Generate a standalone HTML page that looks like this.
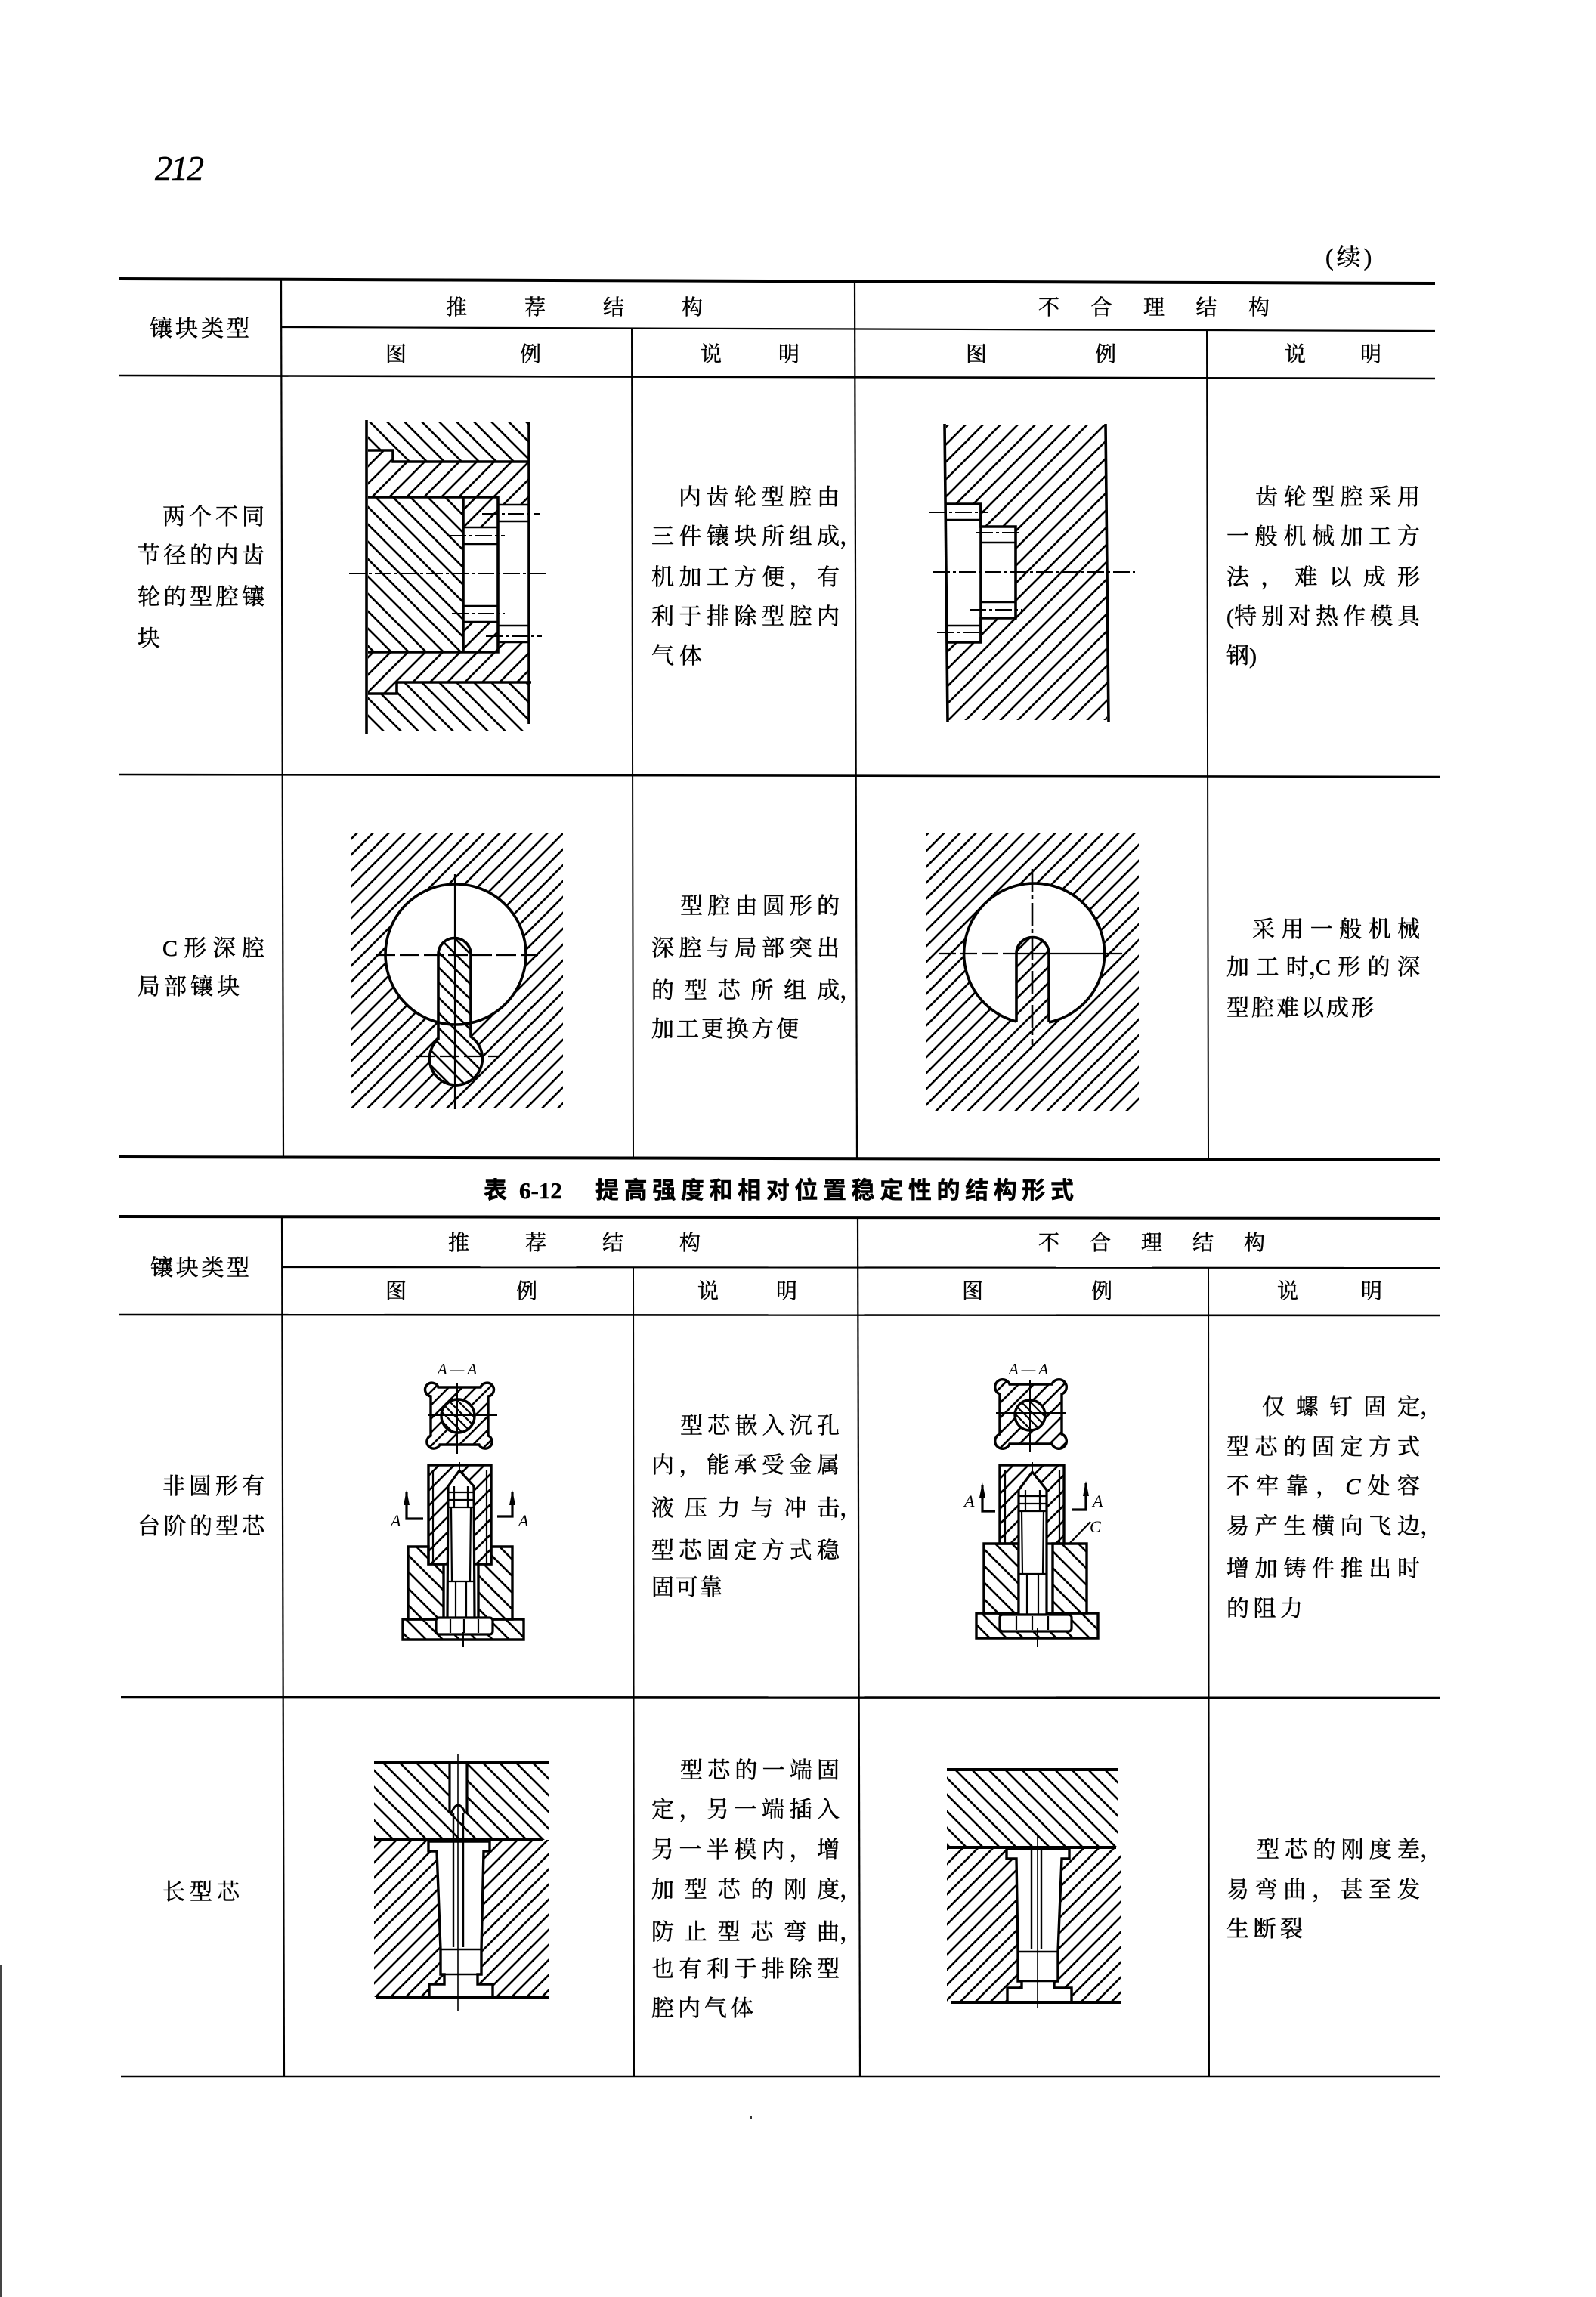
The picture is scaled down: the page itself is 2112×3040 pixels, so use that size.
<!DOCTYPE html>
<html><head><meta charset="utf-8">
<style>
body{margin:0;width:2112px;height:3040px;position:relative;overflow:hidden;background:#fff}
.t{position:absolute;font-family:"Liberation Serif","Noto Serif CJK SC",serif;font-size:30px;line-height:30px;white-space:nowrap;color:#000;-webkit-text-stroke:0.5px #000}
.h{font-size:28px}
.j{display:flex;justify-content:space-between}
.j i{font-style:normal;position:relative;display:block}
.j s{position:absolute;left:100%;top:0;text-decoration:none}
em{font-style:italic}
svg{position:absolute;left:0;top:0}
</style></head><body>
<svg width="2112" height="3040" viewBox="0 0 2112 3040">
<defs>
<pattern id="F23" width="23" height="23" patternUnits="userSpaceOnUse"><path d="M-4,27L27,-4M-4,4L4,-4M19,27L27,19" stroke="#000" stroke-width="2.6"/></pattern>
<pattern id="B23" width="23" height="23" patternUnits="userSpaceOnUse"><path d="M-4,-4L27,27M19,-4L27,4M-4,19L4,27" stroke="#000" stroke-width="2.6"/></pattern>
<pattern id="F22" width="22" height="22" patternUnits="userSpaceOnUse"><path d="M-4,26L26,-4M-4,4L4,-4M18,26L26,18" stroke="#000" stroke-width="2.6"/></pattern>
<pattern id="B22" width="22" height="22" patternUnits="userSpaceOnUse"><path d="M-4,-4L26,26M18,-4L26,4M-4,18L4,26" stroke="#000" stroke-width="2.6"/></pattern>
<pattern id="F21" width="21" height="21" patternUnits="userSpaceOnUse"><path d="M-4,25L25,-4M-4,4L4,-4M17,25L25,17" stroke="#000" stroke-width="2.6"/></pattern>
<pattern id="B21" width="21" height="21" patternUnits="userSpaceOnUse"><path d="M-4,-4L25,25M17,-4L25,4M-4,17L4,25" stroke="#000" stroke-width="2.6"/></pattern>
<pattern id="F20" width="20" height="20" patternUnits="userSpaceOnUse"><path d="M-4,24L24,-4M-4,4L4,-4M16,24L24,16" stroke="#000" stroke-width="2.6"/></pattern>
<pattern id="B20" width="20" height="20" patternUnits="userSpaceOnUse"><path d="M-4,-4L24,24M16,-4L24,4M-4,16L4,24" stroke="#000" stroke-width="2.6"/></pattern>
<pattern id="F18" width="18" height="18" patternUnits="userSpaceOnUse"><path d="M-4,22L22,-4M-4,4L4,-4M14,22L22,14" stroke="#000" stroke-width="2.5"/></pattern>
<pattern id="B18" width="18" height="18" patternUnits="userSpaceOnUse"><path d="M-4,-4L22,22M14,-4L22,4M-4,14L4,22" stroke="#000" stroke-width="2.5"/></pattern>
<pattern id="B12" width="12" height="12" patternUnits="userSpaceOnUse"><path d="M-4,-4L16,16M8,-4L16,4M-4,8L4,16" stroke="#000" stroke-width="2.2"/></pattern>
</defs>

<!-- TABLE 1 LINES -->
<g stroke="#000" fill="none">
<line x1="158" y1="369" x2="1899" y2="375" stroke-width="4"/>
<line x1="373" y1="433" x2="1899" y2="438" stroke-width="2.2"/>
<line x1="158" y1="497" x2="1899" y2="501" stroke-width="2.6"/>
<line x1="158" y1="1025" x2="1906" y2="1028" stroke-width="2.6"/>
<line x1="158" y1="1531" x2="1906" y2="1535" stroke-width="4"/>
<line x1="372" y1="369" x2="375" y2="1532" stroke-width="2.2"/>
<line x1="836" y1="434" x2="838" y2="1532" stroke-width="2"/>
<line x1="1131" y1="372" x2="1134" y2="1533" stroke-width="2.2"/>
<line x1="1597" y1="437" x2="1599" y2="1533" stroke-width="2"/>
<!-- TABLE 2 LINES -->
<line x1="158" y1="1610" x2="1906" y2="1612" stroke-width="4"/>
<line x1="373" y1="1677" x2="1906" y2="1678" stroke-width="2.2"/>
<line x1="158" y1="1740" x2="1906" y2="1741" stroke-width="2.6"/>
<line x1="160" y1="2246" x2="1906" y2="2247" stroke-width="2.6"/>
<line x1="160" y1="2748" x2="1906" y2="2748" stroke-width="2.6"/>
<line x1="373" y1="1611" x2="376" y2="2748" stroke-width="2.2"/>
<line x1="838" y1="1678" x2="839" y2="2748" stroke-width="2"/>
<line x1="1135" y1="1611" x2="1138" y2="2748" stroke-width="2.2"/>
<line x1="1599" y1="1678" x2="1600" y2="2748" stroke-width="2"/>
</g>

<!-- scan artifacts -->
<rect x="0" y="2600" width="3" height="440" fill="#444"/>
<rect x="993" y="2800" width="2" height="5" fill="#333"/>

<!-- DRAWING 1 : recommended gear -->
<g>
<path d="M487,558 H700 V611 H520 V597 H487 Z" fill="url(#B23)"/>
<path d="M487,597 H520 V611 H700 V658 H487 Z" fill="url(#F23)"/>
<rect x="487" y="658" width="126" height="205" fill="url(#B23)"/>
<rect x="613" y="658" width="46" height="40" fill="url(#F23)"/>
<rect x="613" y="823" width="46" height="40" fill="url(#F23)"/>
<rect x="659" y="658" width="41" height="10" fill="url(#F23)"/>
<rect x="659" y="850" width="41" height="13" fill="url(#F23)"/>
<path d="M487,863 H700 V903 H525 V918 H487 Z" fill="url(#F23)"/>
<path d="M487,918 H525 V903 H700 V968 H487 Z" fill="url(#B23)"/>
<g stroke="#000" fill="none" stroke-width="3.6">
<path d="M485,556 V972"/>
<path d="M700,558 V958"/>
<path d="M487,596 H520 V611 H700"/>
<path d="M487,658 H659 V863 H487"/>
<path d="M613,658 V863"/>
<path d="M487,918 H525 V903 H703"/>
</g>
<g stroke="#000" fill="none" stroke-width="2.6">
<path d="M613,698 H659 M613,720 H659 M613,802 H659 M613,823 H659 M659,668 H700 M659,690 H700 M659,828 H700 M659,850 H700"/>
</g>
<g stroke="#000" fill="none" stroke-width="2" stroke-dasharray="22 4 4 4">
<path d="M462,759 H723"/>
<path d="M595,709 H668"/>
<path d="M638,680 H715"/>
<path d="M598,812 H668"/>
<path d="M643,842 H717"/>
</g>
</g>

<!-- DRAWING 2 : bad gear -->
<g>
<path fill-rule="evenodd" d="M1252,563 H1465 V953 H1252 Z M1252,667 H1298 V697 H1344 V818 H1298 V850 H1252 Z" fill="url(#F23)"/>
<g stroke="#000" fill="none" stroke-width="3.6">
<path d="M1250,561 L1254,955"/>
<path d="M1463,561 L1467,955"/>
<path d="M1252,667 H1298 V697 H1344 V818 H1298 V850 H1252"/>
<path d="M1298,667 V850"/>
</g>
<path d="M1252,688 H1298 M1252,828 H1298 M1298,718 H1344 M1298,797 H1344" stroke="#000" stroke-width="2.6" fill="none"/>
<g stroke="#000" fill="none" stroke-width="2" stroke-dasharray="22 4 4 4">
<path d="M1230,678 H1307"/>
<path d="M1292,705 H1352"/>
<path d="M1283,807 H1352"/>
<path d="M1240,837 H1307"/>
<path d="M1235,757 H1502"/>
</g>
</g>

<!-- DRAWING 3 : C recommended -->
<g>
<path fill-rule="evenodd" d="M465,1103 H745 V1467 H465 Z M696,1263 A93,93 0 1 0 510,1263 A93,93 0 1 0 696,1263 Z" fill="url(#F21)"/>
<path d="M580,1263 A21.5,21.5 0 0 1 623,1263 L623,1372 A35,35 0 1 1 580,1375 Z" fill="#fff"/>
<path d="M580,1263 A21.5,21.5 0 0 1 623,1263 L623,1372 A35,35 0 1 1 580,1375 Z" fill="url(#B20)" stroke="#000" stroke-width="3.6"/>
<circle cx="603" cy="1263" r="93" fill="none" stroke="#000" stroke-width="3.6"/>
<path d="M602,1157 V1468" stroke="#000" stroke-width="2.2"/>
<path d="M497,1264 H712 M550,1398 H662" stroke="#000" stroke-width="2.2" stroke-dasharray="26 6" fill="none"/>
</g>

<!-- DRAWING 4 : C bad -->
<g>
<path fill-rule="evenodd" d="M1225,1103 H1507 V1470 H1225 Z M1345,1352 A93,93 0 1 1 1388,1353 L1388,1262 A21.5,21.5 0 0 0 1345,1262 Z" fill="url(#F21)"/>
<g stroke="#000" fill="none" stroke-width="3.6">
<path d="M1345,1352 A93,93 0 1 1 1388,1353"/>
<path d="M1345,1352 V1262 A21.5,21.5 0 0 1 1388,1262 V1353"/>
</g>
<path d="M1366,1150 V1383" stroke="#000" stroke-width="2.6" stroke-dasharray="30 5 5 5"/>
<path d="M1243,1262 H1330" stroke="#000" stroke-width="2.2" stroke-dasharray="22 6"/>
<path d="M1330,1262 H1485" stroke="#000" stroke-width="2.2"/>
</g>

<!-- DRAWING 5 : non-round core recommended -->
<g>
<text x="607" y="1819" text-anchor="middle" font-family="Liberation Serif" font-style="italic" font-size="21" letter-spacing="4">A—A</text>
<path d="M580,1836 H636 A9,9 0 1 1 646,1848 V1900 A9,9 0 1 1 634,1912 H582 A9,9 0 1 1 570,1900 V1848 A9,9 0 1 1 580,1836 Z" fill="url(#F18)" stroke="#000" stroke-width="3.4"/>
<circle cx="606" cy="1874" r="22" fill="#fff"/>
<circle cx="606" cy="1874" r="22" fill="url(#B12)" stroke="#000" stroke-width="3.4"/>
<path d="M605,1830 V1924 M566,1873 H658" stroke="#000" stroke-width="2"/>
<rect x="567" y="1939" width="83" height="131" fill="url(#F20)" stroke="#000" stroke-width="3.4"/>
<path d="M573,1945 V2070 M644,1945 V2070" stroke="#000" stroke-width="2.2"/>
<path d="M540,2047 H567 V2070 H587 V2143 H540 Z" fill="url(#B22)" stroke="#000" stroke-width="3.4"/>
<path d="M633,2143 V2070 H650 V2047 H678 V2143 Z" fill="url(#B22)" stroke="#000" stroke-width="3.4"/>
<path d="M533,2143 H693 V2170 H533 Z" fill="url(#B22)" stroke="#000" stroke-width="3.4"/>
<path d="M593,1967 L608,1946 L627,1967 L628,2143 L592,2143 Z" fill="#fff" stroke="#000" stroke-width="3.2"/>
<path d="M593,1975 H627 M593,1985 H627 M593,1995 H627 M601,1967 V1995 M619,1967 V1995 M597,1995 L598,2093 M623,1995 L622,2093 M592,2093 H628 M603,2093 V2143 M617,2093 V2143" stroke="#000" stroke-width="2.2" fill="none"/>
<rect x="577" y="2141" width="75" height="22" rx="4" fill="#fff" stroke="#000" stroke-width="3.2"/>
<path d="M596,2143 V2161 M614,2143 V2161 M633,2143 V2161" stroke="#000" stroke-width="2.2"/>
<path d="M613,2160 V2180 M608,1935 V1950" stroke="#000" stroke-width="2"/>
<path d="M538,1975 V2010 H560 M678,1975 V2007 H658" stroke="#000" stroke-width="3.2" fill="none"/>
<path d="M534,1992 L538,1972 L542,1992 Z M674,1992 L678,1972 L682,1992 Z" fill="#000"/>
<text x="517" y="2020" font-family="Liberation Serif" font-style="italic" font-size="22">A</text>
<text x="686" y="2020" font-family="Liberation Serif" font-style="italic" font-size="22">A</text>
</g>

<!-- DRAWING 6 : non-round core bad -->
<g>
<text x="1363" y="1819" text-anchor="middle" font-family="Liberation Serif" font-style="italic" font-size="21" letter-spacing="4">A—A</text>
<path d="M1336,1832 H1392 A10,10 0 1 1 1405,1845 V1898 A10,10 0 1 1 1392,1911 H1336 A10,10 0 1 1 1323,1898 V1845 A10,10 0 1 1 1336,1832 Z" fill="url(#F20)" stroke="#000" stroke-width="3.4"/>
<circle cx="1363" cy="1873" r="20" fill="#fff"/>
<circle cx="1363" cy="1873" r="20" fill="url(#B12)" stroke="#000" stroke-width="3.4"/>
<path d="M1363,1826 V1922 M1318,1870 H1410" stroke="#000" stroke-width="2"/>
<rect x="1323" y="1939" width="85" height="104" fill="url(#F20)" stroke="#000" stroke-width="3.4"/>
<path d="M1330,1945 V2043 M1402,1945 V2043" stroke="#000" stroke-width="2.2"/>
<path d="M1302,2043 H1348 V2135 H1302 Z" fill="url(#B22)" stroke="#000" stroke-width="3.4"/>
<path d="M1393,2043 H1438 V2135 H1393 Z" fill="url(#B22)" stroke="#000" stroke-width="3.4"/>
<path d="M1292,2135 H1453 V2168 H1292 Z" fill="url(#B22)" stroke="#000" stroke-width="3.4"/>
<path d="M1348,1972 L1366,1948 L1385,1972 V2137 H1348 Z" fill="#fff" stroke="#000" stroke-width="3.2"/>
<path d="M1348,1980 H1385 M1348,1990 H1385 M1348,2000 H1385 M1357,1972 V2000 M1376,1972 V2000 M1352,2000 L1353,2083 M1381,2000 L1380,2083 M1348,2083 H1385 M1359,2083 V2137 M1374,2083 V2137" stroke="#000" stroke-width="2.2" fill="none"/>
<rect x="1323" y="2137" width="95" height="22" rx="4" fill="#fff" stroke="#000" stroke-width="3.2"/>
<path d="M1345,2139 V2157 M1366,2139 V2157 M1387,2139 V2157" stroke="#000" stroke-width="2.2"/>
<path d="M1373,2155 V2180 M1366,1935 V1950" stroke="#000" stroke-width="2"/>
<path d="M1300,1965 V2000 H1317 M1437,1963 V1998 H1418" stroke="#000" stroke-width="3.2" fill="none"/>
<path d="M1296,1982 L1300,1962 L1304,1982 Z M1433,1980 L1437,1960 L1441,1980 Z" fill="#000"/>
<text x="1276" y="1994" font-family="Liberation Serif" font-style="italic" font-size="22">A</text>
<text x="1446" y="1994" font-family="Liberation Serif" font-style="italic" font-size="22">A</text>
<text x="1442" y="2028" font-family="Liberation Serif" font-style="italic" font-size="22">C</text>
<path d="M1416,2042 L1443,2014" stroke="#000" stroke-width="2.2"/>
</g>

<!-- DRAWING 7 : long core recommended -->
<g>
<rect x="495" y="2332" width="232" height="103" fill="url(#B22)"/>
<rect x="595" y="2332" width="23" height="68" fill="#fff"/>
<rect x="495" y="2435" width="232" height="208" fill="url(#F20)"/>
<path d="M567,2437 H648 V2450 H640 L637,2580 V2613 H632 V2626 H652 V2643 H568 V2626 H588 V2613 H583 V2580 L578,2450 H567 Z" fill="#fff" stroke="#000" stroke-width="3.4"/>
<path d="M495,2332 H727 M495,2435 H718 M498,2643 H727" stroke="#000" stroke-width="4"/>
<path d="M595,2332 V2400 M618,2332 V2400" stroke="#000" stroke-width="3.2"/>
<path d="M597,2400 Q606,2378 616,2400" stroke="#000" stroke-width="3" fill="none"/>
<path d="M600,2400 V2577 M613,2400 V2577 M583,2580 H637 M588,2613 H632" stroke="#000" stroke-width="2.4"/>
<path d="M606,2322 V2662" stroke="#000" stroke-width="1.6"/>
</g>

<!-- DRAWING 8 : long core bad -->
<g>
<rect x="1253" y="2342" width="227" height="103" fill="url(#B22)"/>
<rect x="1253" y="2445" width="230" height="205" fill="url(#F20)"/>
<path d="M1332,2447 H1415 V2460 H1405 L1400,2583 V2622 H1395 V2631 H1418 V2650 H1333 V2631 H1352 V2622 H1347 V2583 L1345,2460 H1332 Z" fill="#fff" stroke="#000" stroke-width="3.4"/>
<path d="M1253,2342 H1480 M1253,2445 H1477 M1258,2650 H1483" stroke="#000" stroke-width="4"/>
<path d="M1365,2447 V2580 M1378,2447 V2580 M1347,2583 H1400 M1352,2622 H1395" stroke="#000" stroke-width="2.4"/>
<path d="M1373,2430 V2657" stroke="#000" stroke-width="1.6"/>
</g>
</svg>

<!-- PAGE TEXT -->
<div class="t" style="left:205px;top:200px;font-size:46px;line-height:46px;font-style:italic;letter-spacing:-2px">212</div>
<div class="t" style="left:1754px;top:325px;font-size:32px;letter-spacing:4px">(续)</div>

<!-- TABLE 1 HEADER -->
<div class="t j" style="left:198px;top:421px;width:132px"><i>镶</i><i>块</i><i>类</i><i>型</i></div>
<div class="t h j" style="left:590px;top:393px;width:340px"><i>推</i><i>荐</i><i>结</i><i>构</i></div>
<div class="t h j" style="left:1374px;top:393px;width:306px"><i>不</i><i>合</i><i>理</i><i>结</i><i>构</i></div>
<div class="t h j" style="left:510px;top:455px;width:206px"><i>图</i><i>例</i></div>
<div class="t h j" style="left:927px;top:455px;width:131px"><i>说</i><i>明</i></div>
<div class="t h j" style="left:1278px;top:455px;width:199px"><i>图</i><i>例</i></div>
<div class="t h j" style="left:1700px;top:455px;width:128px"><i>说</i><i>明</i></div>

<!-- ROW 1 -->
<div class="t j" style="left:215px;top:670px;width:135px"><i>两</i><i>个</i><i>不</i><i>同</i></div>
<div class="t j" style="left:182px;top:721px;width:168px"><i>节</i><i>径</i><i>的</i><i>内</i><i>齿</i></div>
<div class="t j" style="left:182px;top:776px;width:168px"><i>轮</i><i>的</i><i>型</i><i>腔</i><i>镶</i></div>
<div class="t" style="left:182px;top:831px">块</div>

<div class="t j" style="left:898px;top:644px;width:213px"><i>内</i><i>齿</i><i>轮</i><i>型</i><i>腔</i><i>由</i></div>
<div class="t j" style="left:862px;top:696px;width:249px"><i>三</i><i>件</i><i>镶</i><i>块</i><i>所</i><i>组</i><i>成<s>，</s></i></div>
<div class="t j" style="left:862px;top:750px;width:249px"><i>机</i><i>加</i><i>工</i><i>方</i><i>便</i><i>，</i><i>有</i></div>
<div class="t j" style="left:862px;top:802px;width:249px"><i>利</i><i>于</i><i>排</i><i>除</i><i>型</i><i>腔</i><i>内</i></div>
<div class="t j" style="left:862px;top:854px;width:67px"><i>气</i><i>体</i></div>

<div class="t j" style="left:1661px;top:644px;width:218px"><i>齿</i><i>轮</i><i>型</i><i>腔</i><i>采</i><i>用</i></div>
<div class="t j" style="left:1623px;top:696px;width:256px"><i>一</i><i>般</i><i>机</i><i>械</i><i>加</i><i>工</i><i>方</i></div>
<div class="t j" style="left:1623px;top:750px;width:256px"><i>法</i><i>，</i><i>难</i><i>以</i><i>成</i><i>形</i></div>
<div class="t j" style="left:1623px;top:802px;width:256px"><i>(特</i><i>别</i><i>对</i><i>热</i><i>作</i><i>模</i><i>具</i></div>
<div class="t" style="left:1623px;top:854px">钢)</div>

<!-- ROW 2 -->
<div class="t j" style="left:215px;top:1241px;width:135px"><i>C</i><i>形</i><i>深</i><i>腔</i></div>
<div class="t j" style="left:182px;top:1292px;width:135px"><i>局</i><i>部</i><i>镶</i><i>块</i></div>

<div class="t j" style="left:900px;top:1185px;width:211px"><i>型</i><i>腔</i><i>由</i><i>圆</i><i>形</i><i>的</i></div>
<div class="t j" style="left:862px;top:1241px;width:249px"><i>深</i><i>腔</i><i>与</i><i>局</i><i>部</i><i>突</i><i>出</i></div>
<div class="t j" style="left:862px;top:1297px;width:249px"><i>的</i><i>型</i><i>芯</i><i>所</i><i>组</i><i>成<s>，</s></i></div>
<div class="t j" style="left:862px;top:1348px;width:195px"><i>加</i><i>工</i><i>更</i><i>换</i><i>方</i><i>便</i></div>

<div class="t j" style="left:1657px;top:1216px;width:222px"><i>采</i><i>用</i><i>一</i><i>般</i><i>机</i><i>械</i></div>
<div class="t j" style="left:1623px;top:1266px;width:256px"><i>加</i><i>工</i><i>时<s>，</s></i><i>C</i><i>形</i><i>的</i><i>深</i></div>
<div class="t j" style="left:1623px;top:1320px;width:195px"><i>型</i><i>腔</i><i>难</i><i>以</i><i>成</i><i>形</i></div>

<!-- TITLE -->
<div class="t" style="left:640px;top:1561px;font-family:'Liberation Sans','Noto Sans CJK SC',sans-serif;font-weight:700;font-size:31px">表</div>
<div class="t" style="left:687px;top:1561px;font-weight:700;font-size:31px">6-12</div>
<div class="t j" style="left:788px;top:1561px;width:633px;font-family:'Liberation Sans','Noto Sans CJK SC',sans-serif;font-weight:700;font-size:31px"><i>提</i><i>高</i><i>强</i><i>度</i><i>和</i><i>相</i><i>对</i><i>位</i><i>置</i><i>稳</i><i>定</i><i>性</i><i>的</i><i>结</i><i>构</i><i>形</i><i>式</i></div>

<!-- TABLE 2 HEADER -->
<div class="t j" style="left:199px;top:1664px;width:131px"><i>镶</i><i>块</i><i>类</i><i>型</i></div>
<div class="t h j" style="left:593px;top:1631px;width:334px"><i>推</i><i>荐</i><i>结</i><i>构</i></div>
<div class="t h j" style="left:1374px;top:1631px;width:300px"><i>不</i><i>合</i><i>理</i><i>结</i><i>构</i></div>
<div class="t h j" style="left:510px;top:1695px;width:201px"><i>图</i><i>例</i></div>
<div class="t h j" style="left:923px;top:1695px;width:132px"><i>说</i><i>明</i></div>
<div class="t h j" style="left:1273px;top:1695px;width:199px"><i>图</i><i>例</i></div>
<div class="t h j" style="left:1690px;top:1695px;width:139px"><i>说</i><i>明</i></div>

<!-- ROW 3 -->
<div class="t j" style="left:215px;top:1953px;width:135px"><i>非</i><i>圆</i><i>形</i><i>有</i></div>
<div class="t j" style="left:182px;top:2006px;width:168px"><i>台</i><i>阶</i><i>的</i><i>型</i><i>芯</i></div>

<div class="t j" style="left:900px;top:1873px;width:211px"><i>型</i><i>芯</i><i>嵌</i><i>入</i><i>沉</i><i>孔</i></div>
<div class="t j" style="left:862px;top:1925px;width:249px"><i>内</i><i>，</i><i>能</i><i>承</i><i>受</i><i>金</i><i>属</i></div>
<div class="t j" style="left:862px;top:1982px;width:249px"><i>液</i><i>压</i><i>力</i><i>与</i><i>冲</i><i>击<s>，</s></i></div>
<div class="t j" style="left:862px;top:2038px;width:249px"><i>型</i><i>芯</i><i>固</i><i>定</i><i>方</i><i>式</i><i>稳</i></div>
<div class="t j" style="left:862px;top:2087px;width:94px"><i>固</i><i>可</i><i>靠</i></div>

<div class="t j" style="left:1670px;top:1848px;width:209px"><i>仅</i><i>螺</i><i>钉</i><i>固</i><i>定<s>，</s></i></div>
<div class="t j" style="left:1623px;top:1901px;width:256px"><i>型</i><i>芯</i><i>的</i><i>固</i><i>定</i><i>方</i><i>式</i></div>
<div class="t j" style="left:1623px;top:1953px;width:256px"><i>不</i><i>牢</i><i>靠</i><i>，</i><i><em>C</em></i><i>处</i><i>容</i></div>
<div class="t j" style="left:1623px;top:2006px;width:256px"><i>易</i><i>产</i><i>生</i><i>横</i><i>向</i><i>飞</i><i>边<s>，</s></i></div>
<div class="t j" style="left:1623px;top:2062px;width:256px"><i>增</i><i>加</i><i>铸</i><i>件</i><i>推</i><i>出</i><i>时</i></div>
<div class="t j" style="left:1623px;top:2115px;width:101px"><i>的</i><i>阻</i><i>力</i></div>

<!-- ROW 4 -->
<div class="t j" style="left:215px;top:2490px;width:102px"><i>长</i><i>型</i><i>芯</i></div>

<div class="t j" style="left:900px;top:2329px;width:211px"><i>型</i><i>芯</i><i>的</i><i>一</i><i>端</i><i>固</i></div>
<div class="t j" style="left:862px;top:2381px;width:249px"><i>定</i><i>，</i><i>另</i><i>一</i><i>端</i><i>插</i><i>入</i></div>
<div class="t j" style="left:862px;top:2434px;width:249px"><i>另</i><i>一</i><i>半</i><i>模</i><i>内</i><i>，</i><i>增</i></div>
<div class="t j" style="left:862px;top:2487px;width:249px"><i>加</i><i>型</i><i>芯</i><i>的</i><i>刚</i><i>度<s>，</s></i></div>
<div class="t j" style="left:862px;top:2543px;width:249px"><i>防</i><i>止</i><i>型</i><i>芯</i><i>弯</i><i>曲<s>，</s></i></div>
<div class="t j" style="left:862px;top:2592px;width:249px"><i>也</i><i>有</i><i>利</i><i>于</i><i>排</i><i>除</i><i>型</i></div>
<div class="t j" style="left:862px;top:2644px;width:135px"><i>腔</i><i>内</i><i>气</i><i>体</i></div>

<div class="t j" style="left:1663px;top:2434px;width:216px"><i>型</i><i>芯</i><i>的</i><i>刚</i><i>度</i><i>差<s>，</s></i></div>
<div class="t j" style="left:1623px;top:2487px;width:256px"><i>易</i><i>弯</i><i>曲</i><i>，</i><i>甚</i><i>至</i><i>发</i></div>
<div class="t j" style="left:1623px;top:2539px;width:101px"><i>生</i><i>断</i><i>裂</i></div>

</body></html>
